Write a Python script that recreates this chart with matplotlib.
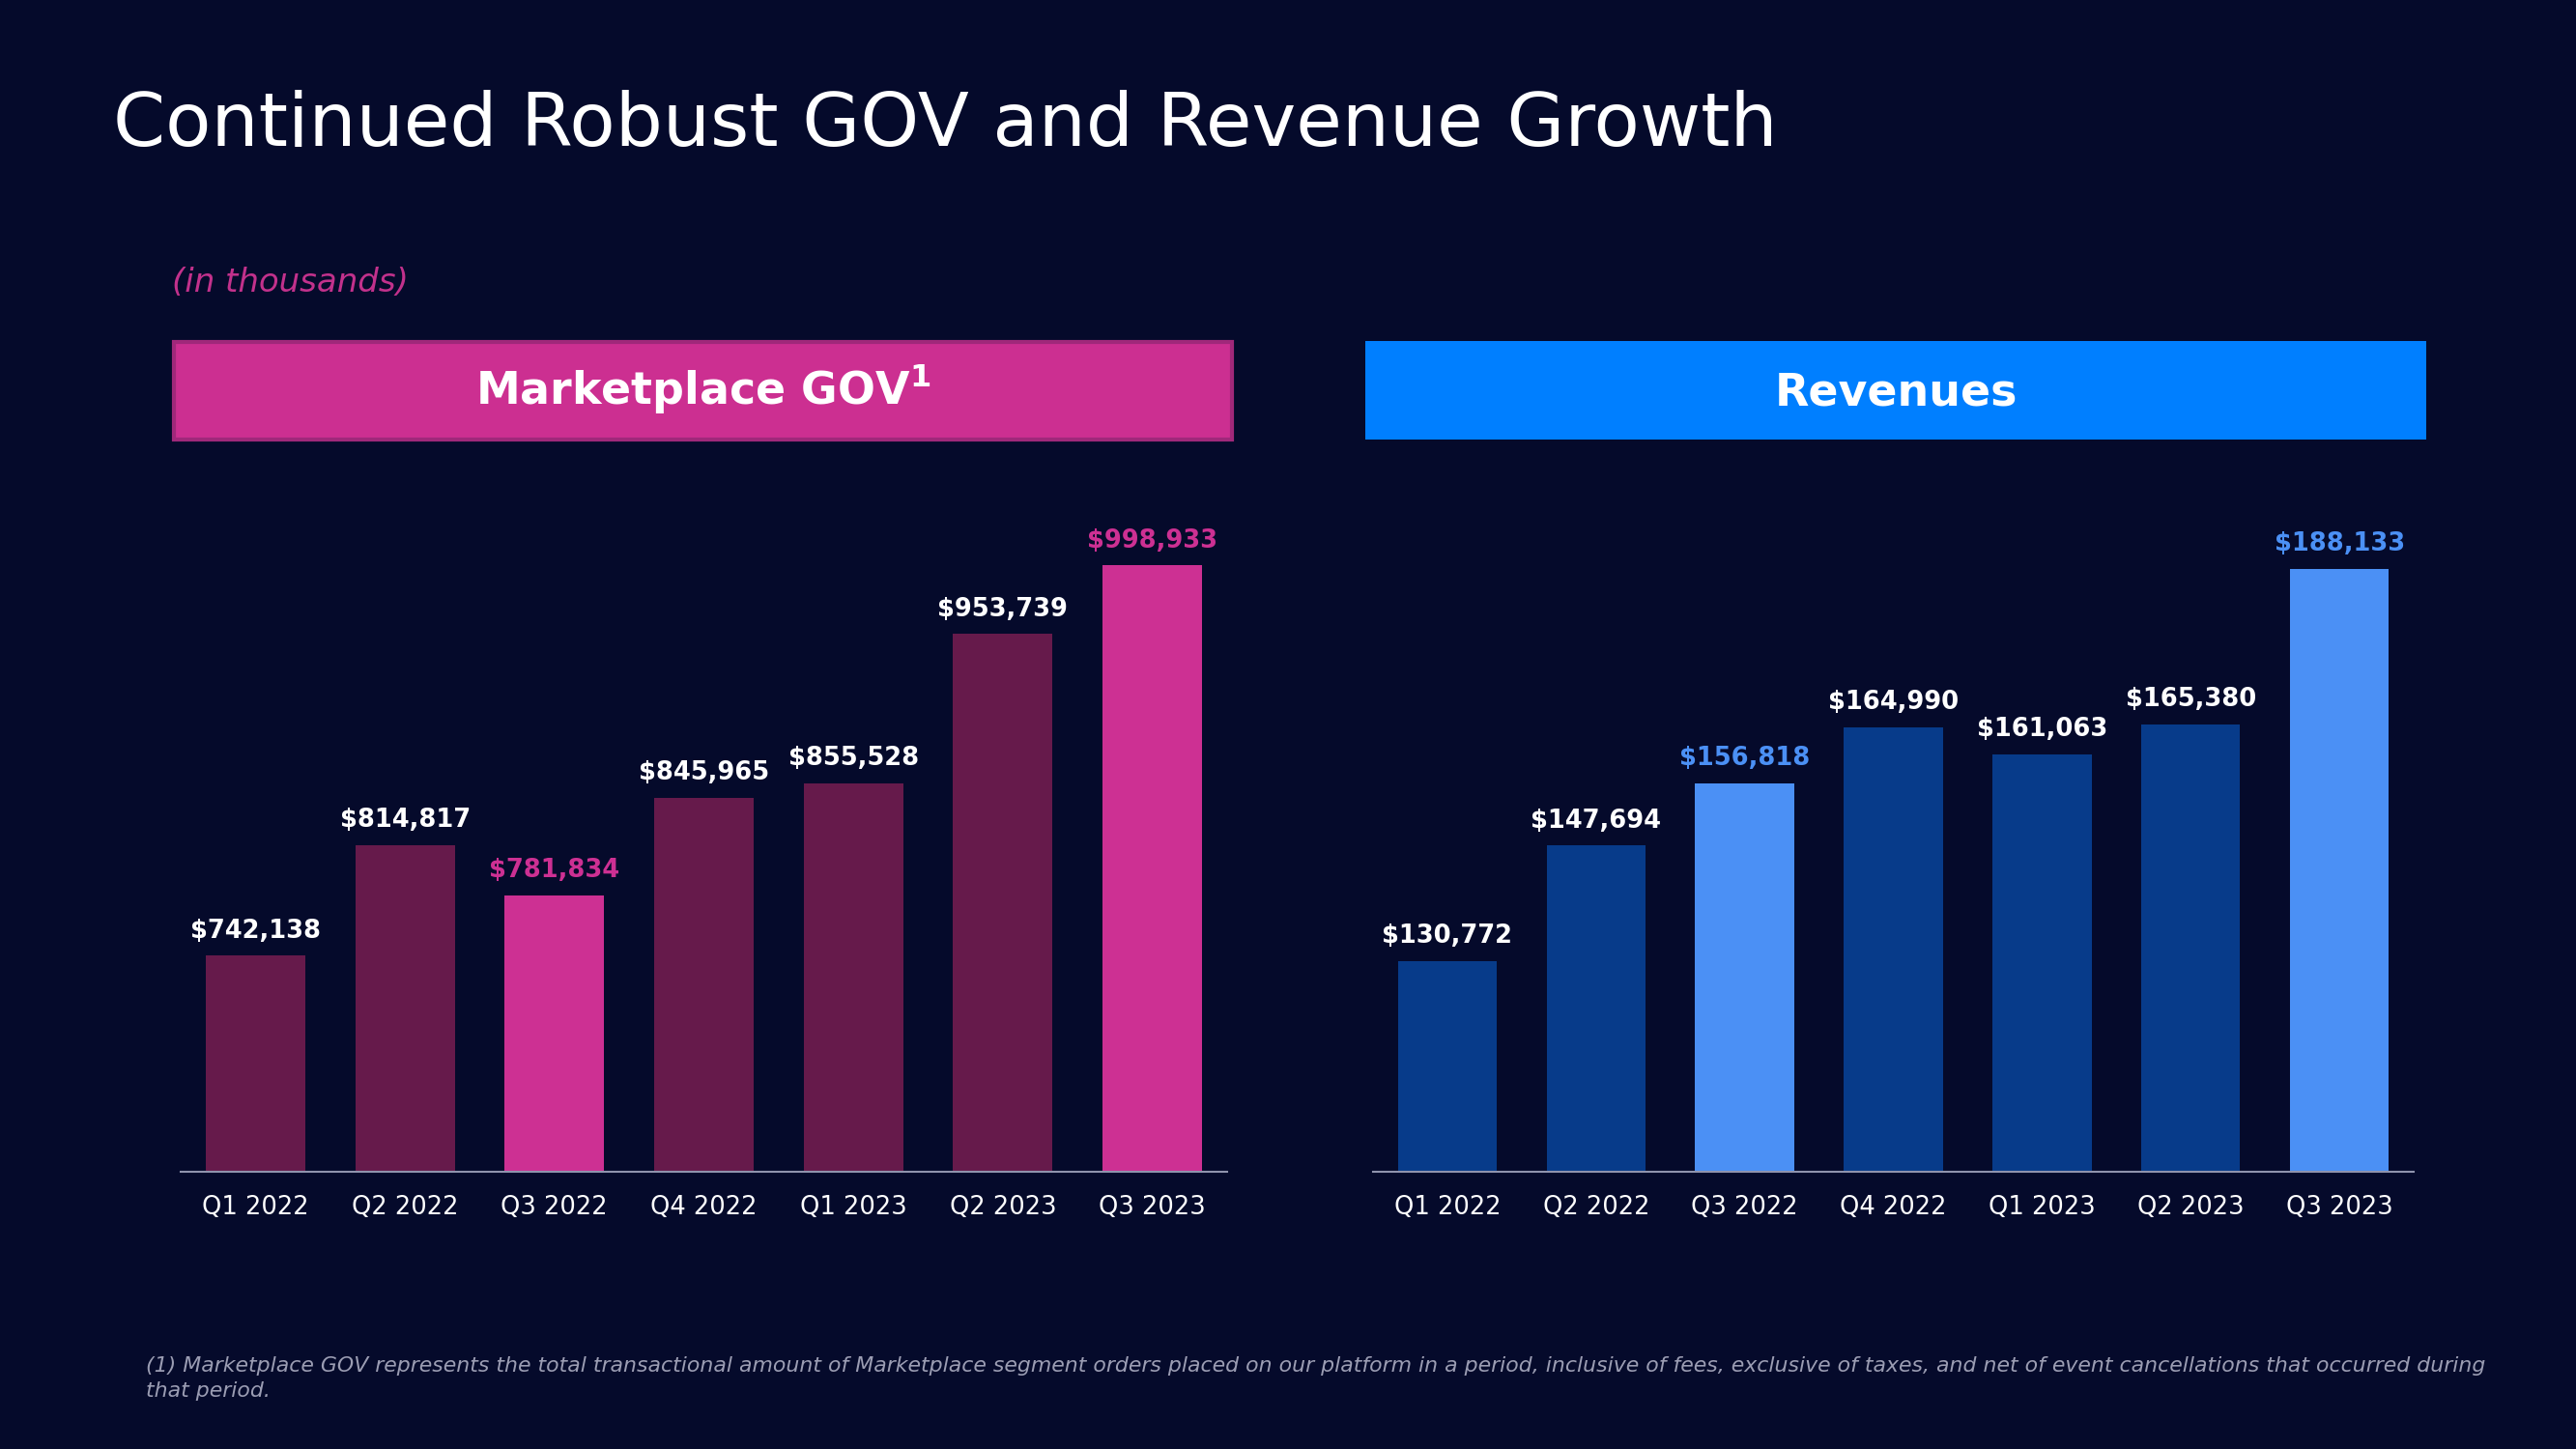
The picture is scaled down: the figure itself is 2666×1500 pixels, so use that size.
import matplotlib.pyplot as plt
from matplotlib.patches import Rectangle

quarters = ["Q1 2022", "Q2 2022", "Q3 2022", "Q4 2022", "Q1 2023", "Q2 2023", "Q3 2023"]
gov = [742138, 814817, 781834, 845965, 855528, 953739, 998933]
revenue = [130772, 147694, 156818, 164990, 161063, 165380, 188133]
highlight_quarters = ["Q3 2022", "Q3 2023"]

title = "Continued Robust GOV and Revenue Growth"
footnote = ("(1) Marketplace GOV represents the total transactional amount of Marketplace segment orders "
            "placed on our platform in a period, inclusive of fees, exclusive of taxes, and net of event "
            "cancellations that occurred during\nthat period.")

BG = "#050A2B"
GOV_DARK = "#661A4B"
GOV_LIGHT = "#CD3093"
REV_DARK = "#073B8A"
REV_LIGHT = "#4B90F5"
HEAD_BLUE = "#007FFF"
AXIS_GREY = "#8F93AD"
FOOT_GREY = "#9B9DB3"

W, H = 2666, 1500
plt.rcParams["font.family"] = ["DejaVu Sans"]


def fx(px):
    return px / W


def fy(py):
    return 1 - py / H


fig = plt.figure(figsize=(W / 100, H / 100), dpi=100, facecolor=BG)

# page title and notes
fig.text(fx(117), fy(151), title, color="white", fontsize=55.7, va="baseline", ha="left")
fig.text(fx(178), fy(292), "(in thousands)", color="#C2318C", fontsize=24.5, style="italic",
         va="center", ha="left")
fig.text(fx(151), fy(1427), footnote, color=FOOT_GREY, fontsize=15.85, style="italic",
         va="center", ha="left", linespacing=1.33)

# header boxes
fig.patches.append(Rectangle((fx(180), fy(455)), (1275 - 180) / W, (455 - 354) / H,
                             transform=fig.transFigure, facecolor="#CC2F91",
                             edgecolor="#A0287A", linewidth=3))
fig.patches.append(Rectangle((fx(1413), fy(455)), (2511 - 1413) / W, (455 - 353) / H,
                             transform=fig.transFigure, facecolor=HEAD_BLUE, edgecolor="none"))
fig.text(fx(728), fy(419), r"Marketplace GOV$^\mathbf{1}$", color="white", fontsize=33,
         fontweight="bold", ha="center", va="baseline")
fig.text(fx(1962), fy(419), "Revenues", color="white", fontsize=33,
         fontweight="bold", ha="center", va="baseline")

panels = [
    (gov, (600000, 1050000), GOV_DARK, GOV_LIGHT, [fx(187), fy(1213), (1270 - 187) / W, (1213 - 505) / H]),
    (revenue, (100000, 200000), REV_DARK, REV_LIGHT, [fx(1421), fy(1213), (2498 - 1421) / W, (1213 - 505) / H]),
]

for values, ylim, dark, light, rect in panels:
    ax = fig.add_axes(rect)
    ax.set_facecolor(BG)
    x = range(len(quarters))
    colors = [light if q in highlight_quarters else dark for q in quarters]
    ax.bar(x, values, width=0.665, color=colors, edgecolor="none")
    for i, v in enumerate(values):
        lab_color = light if quarters[i] in highlight_quarters else "white"
        ax.annotate(f"${v:,}", (i, v), xytext=(0, 13.5), textcoords="offset points",
                    ha="center", va="baseline", color=lab_color, fontsize=18.5, fontweight="bold")
    ax.set_xlim(-0.5, len(quarters) - 0.5)
    ax.set_ylim(*ylim)
    ax.set_xticks(list(x))
    ax.set_xticklabels(quarters, color="white", fontsize=18.5)
    ax.tick_params(axis="x", length=0, pad=17)
    ax.set_yticks([])
    for side in ["top", "right", "left"]:
        ax.spines[side].set_visible(False)
    ax.spines["bottom"].set_color(AXIS_GREY)
    ax.spines["bottom"].set_linewidth(1.5)

fig.savefig("out.png", dpi=100, facecolor=BG)
